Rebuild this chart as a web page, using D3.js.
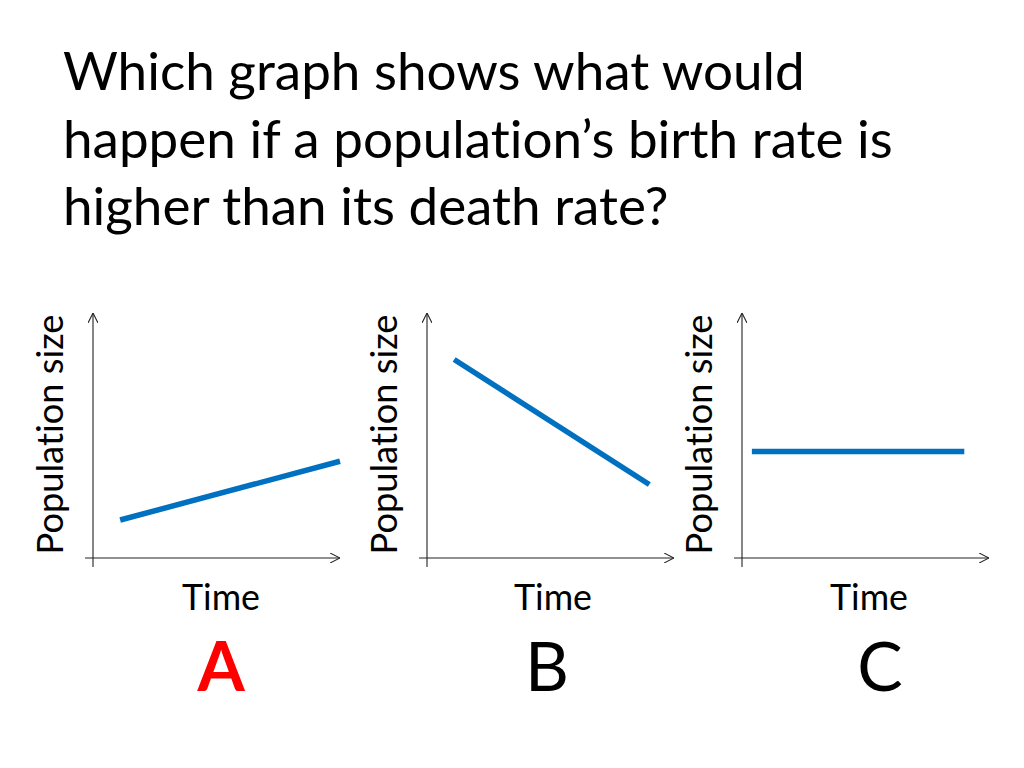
<!DOCTYPE html>
<html>
<head>
<meta charset="utf-8">
<script src="https://cdn.jsdelivr.net/npm/d3@7"></script>
<style>
  html, body { margin: 0; padding: 0; background: #fff; }
  svg { display: block; }
  text { font-family: Lato, "Open Sans", sans-serif; fill: #000; font-variant-ligatures: none; font-feature-settings: "liga" 0, "clig" 0; }
</style>
</head>
<body>
<svg id="chart" width="1024" height="768"></svg>
<script>
// ---- data ----
const titleLines = [
  "Which graph shows what would",
  "happen if a population\u2019s birth rate is",
  "higher than its death rate?"
];
const panelLetters = ["A", "B", "C"];
const letterColors = ["#FF0000", "#000000", "#000000"];
const letterWeights = ["bold", "normal", "normal"];
const xLabel = "Time";
const yLabel = "Population size";
// line endpoints in axis units (0..10 on both axes)
const lineStartX = [1.1, 1.1, 0.4];
const lineEndX   = [10.0, 9.0, 9.0];
const lineStartY = [1.55, 8.1, 4.35];
const lineEndY   = [3.95, 3.0, 4.35];

// ---- layout ----
const svg = d3.select("#chart");
const originX = [93, 427, 742];
const axisW = 247, axisTop = 313, axisBottom = 558;

// fit a text element to a target width by scaling its font size
function fitWidth(sel, target) {
  sel.attr("font-size", 100);
  const w = sel.node().getComputedTextLength();
  const fs = 100 * target / w;
  sel.attr("font-size", fs);
  return fs;
}

// title
const titleBase = [90, 158, 225];
const probe = svg.append("text").text(titleLines[1]);
const titleSize = fitWidth(probe, 830);
probe.remove();
titleLines.forEach((t, i) => {
  svg.append("text")
    .attr("x", 63).attr("y", titleBase[i])
    .attr("font-size", titleSize)
    .text(t);
});

// arrow marker
svg.append("defs").append("marker")
  .attr("id", "arrow")
  .attr("viewBox", "0 0 10 10")
  .attr("refX", 10).attr("refY", 5)
  .attr("markerWidth", 10).attr("markerHeight", 10)
  .attr("markerUnits", "userSpaceOnUse")
  .attr("orient", "auto")
  .append("path")
  .attr("d", "M0,0 L10,5 L0,10")
  .attr("fill", "none")
  .attr("stroke", "#222")
  .attr("stroke-width", 1.1);

panelLetters.forEach((letter, i) => {
  const x = d3.scaleLinear().domain([0, 10]).range([originX[i], originX[i] + axisW]);
  const y = d3.scaleLinear().domain([0, 10]).range([axisBottom, axisTop]);
  const g = svg.append("g");

  // axes
  g.append("line")
    .attr("x1", x(0) - 8).attr("y1", y(0))
    .attr("x2", x(10)).attr("y2", y(0))
    .attr("stroke", "#222").attr("stroke-width", 1.1)
    .attr("marker-end", "url(#arrow)");
  g.append("line")
    .attr("x1", x(0)).attr("y1", y(0) + 9)
    .attr("x2", x(0)).attr("y2", y(10))
    .attr("stroke", "#222").attr("stroke-width", 1.1)
    .attr("marker-end", "url(#arrow)");

  // data line
  const pts = [[lineStartX[i], lineStartY[i]], [lineEndX[i], lineEndY[i]]];
  g.append("path")
    .attr("d", d3.line().x(d => x(d[0])).y(d => y(d[1]))(pts))
    .attr("fill", "none")
    .attr("stroke", "#0070C0")
    .attr("stroke-width", 5.5);

  // y label
  const yl = g.append("text")
    .attr("text-anchor", "middle")
    .attr("transform", `translate(${x(0) - 30},${(axisTop + axisBottom) / 2 - 1}) rotate(-90)`)
    .text(yLabel);
  fitWidth(yl, 240);

  // x label
  const xl = g.append("text")
    .attr("text-anchor", "middle")
    .attr("x", [221, 553, 869][i]).attr("y", 610)
    .text(xLabel);
  fitWidth(xl, 78);

  // panel letter
  g.append("text")
    .attr("text-anchor", "middle")
    .attr("x", [221, 547, 880][i]).attr("y", 691)
    .attr("font-size", 68)
    .attr("font-weight", letterWeights[i])
    .style("fill", letterColors[i])
    .text(letter);
});
</script>
</body>
</html>
